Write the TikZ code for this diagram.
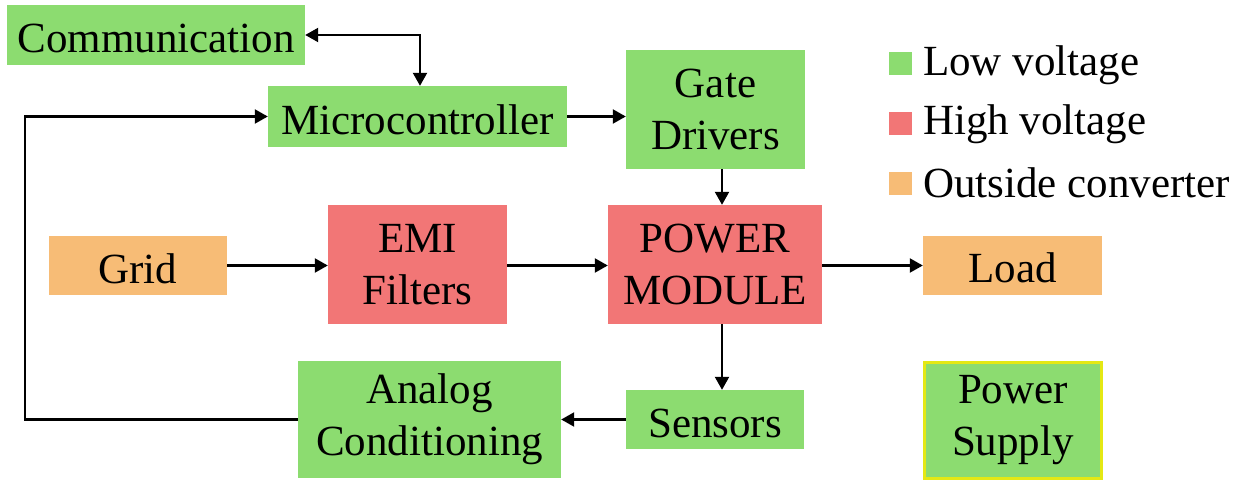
\documentclass[tikz,border=0pt]{standalone}
\usepackage{fontspec}
\setmainfont{Liberation Serif}
\usetikzlibrary{arrows.meta}
\definecolor{lowv}{RGB}{140,220,112}
\definecolor{highv}{RGB}{242,118,118}
\definecolor{outc}{RGB}{247,188,118}
\definecolor{psborder}{RGB}{228,232,20}
\begin{document}
\begin{tikzpicture}[x=1pt,y=-1pt,
  box/.style={rectangle,inner sep=0pt,align=center,font=\fontsize{43}{52}\selectfont,
    execute at begin node={\rule{0pt}{36pt}}},
  lowbox/.style={box,fill=lowv},
  highbox/.style={box,fill=highv},
  outbox/.style={box,fill=outc},
  arr/.style={line width=2.2pt,-{Triangle[length=13pt,width=14pt]}},
  darr/.style={line width=2.2pt,{Triangle[length=13pt,width=14pt]}-{Triangle[length=13pt,width=14pt]}},
  legsq/.style={rectangle,inner sep=0pt,minimum size=23pt},
  legtxt/.style={anchor=west,inner sep=0pt,font=\fontsize{43}{52}\selectfont}]
\useasboundingbox (0,0) rectangle (1233,481);
% nodes
\node[lowbox,minimum width=298pt,minimum height=60pt] (comm) at (156,35) {Communication};
\node[lowbox,minimum width=299pt,minimum height=61pt] (micro) at (417.5,116.5) {Microcontroller};
\node[lowbox,minimum width=179pt,minimum height=119pt] (gate) at (715.5,109.5) {Gate\\Drivers};
\node[outbox,minimum width=178pt,minimum height=59pt] (grid) at (138,265.5) {Grid};
\node[highbox,minimum width=179pt,minimum height=119pt] (emi) at (417.5,264.5) {EMI\\Filters};
\node[highbox,minimum width=214pt,minimum height=119pt] (power) at (715,264.5) {POWER\\MODULE};
\node[outbox,minimum width=179pt,minimum height=59pt] (load) at (1012.5,265) {Load};
\node[lowbox,minimum width=178pt,minimum height=59pt] (sensors) at (715,419.5) {Sensors};
\node[lowbox,minimum width=263pt,minimum height=117pt] (analog) at (429.5,419.5) {Analog\\Conditioning};
\node[lowbox,draw=psborder,line width=3pt,minimum width=177pt,minimum height=116pt] (psupply) at (1013,420.5) {Power\\Supply};
% legend
\node[legsq,fill=lowv] (lg1) at (900,63.5) {};
\node[legtxt] (lt1) at (923,65) {Low voltage};
\node[legsq,fill=highv] (lg2) at (900,123.5) {};
\node[legtxt] (lt2) at (923,124) {High voltage};
\node[legsq,fill=outc] (lg3) at (900,183.5) {};
\node[legtxt] (lt3) at (923,183) {Outside converter};
% helper coordinates
\coordinate (cx) at (420,0);
\coordinate (vx) at (722,0);
\coordinate (fb) at (25,0);
% connectors
\draw[darr] (comm.east) -| (micro.north -| cx);
\draw[arr] (micro.east) -- (gate.west |- micro.east);
\draw[arr] (gate.south -| vx) -- (power.north -| vx);
\draw[arr] (grid.east) -- (emi.west |- grid.east);
\draw[arr] (emi.east |- grid.east) -- (power.west |- grid.east);
\draw[arr] (power.east |- grid.east) -- (load.west |- grid.east);
\draw[arr] (power.south -| vx) -- (sensors.north -| vx);
\draw[arr] (sensors.west) -- (analog.east |- sensors.west);
\draw[arr] (analog.west) -- (analog.west -| fb) |- (micro.west);
\end{tikzpicture}
\end{document}
